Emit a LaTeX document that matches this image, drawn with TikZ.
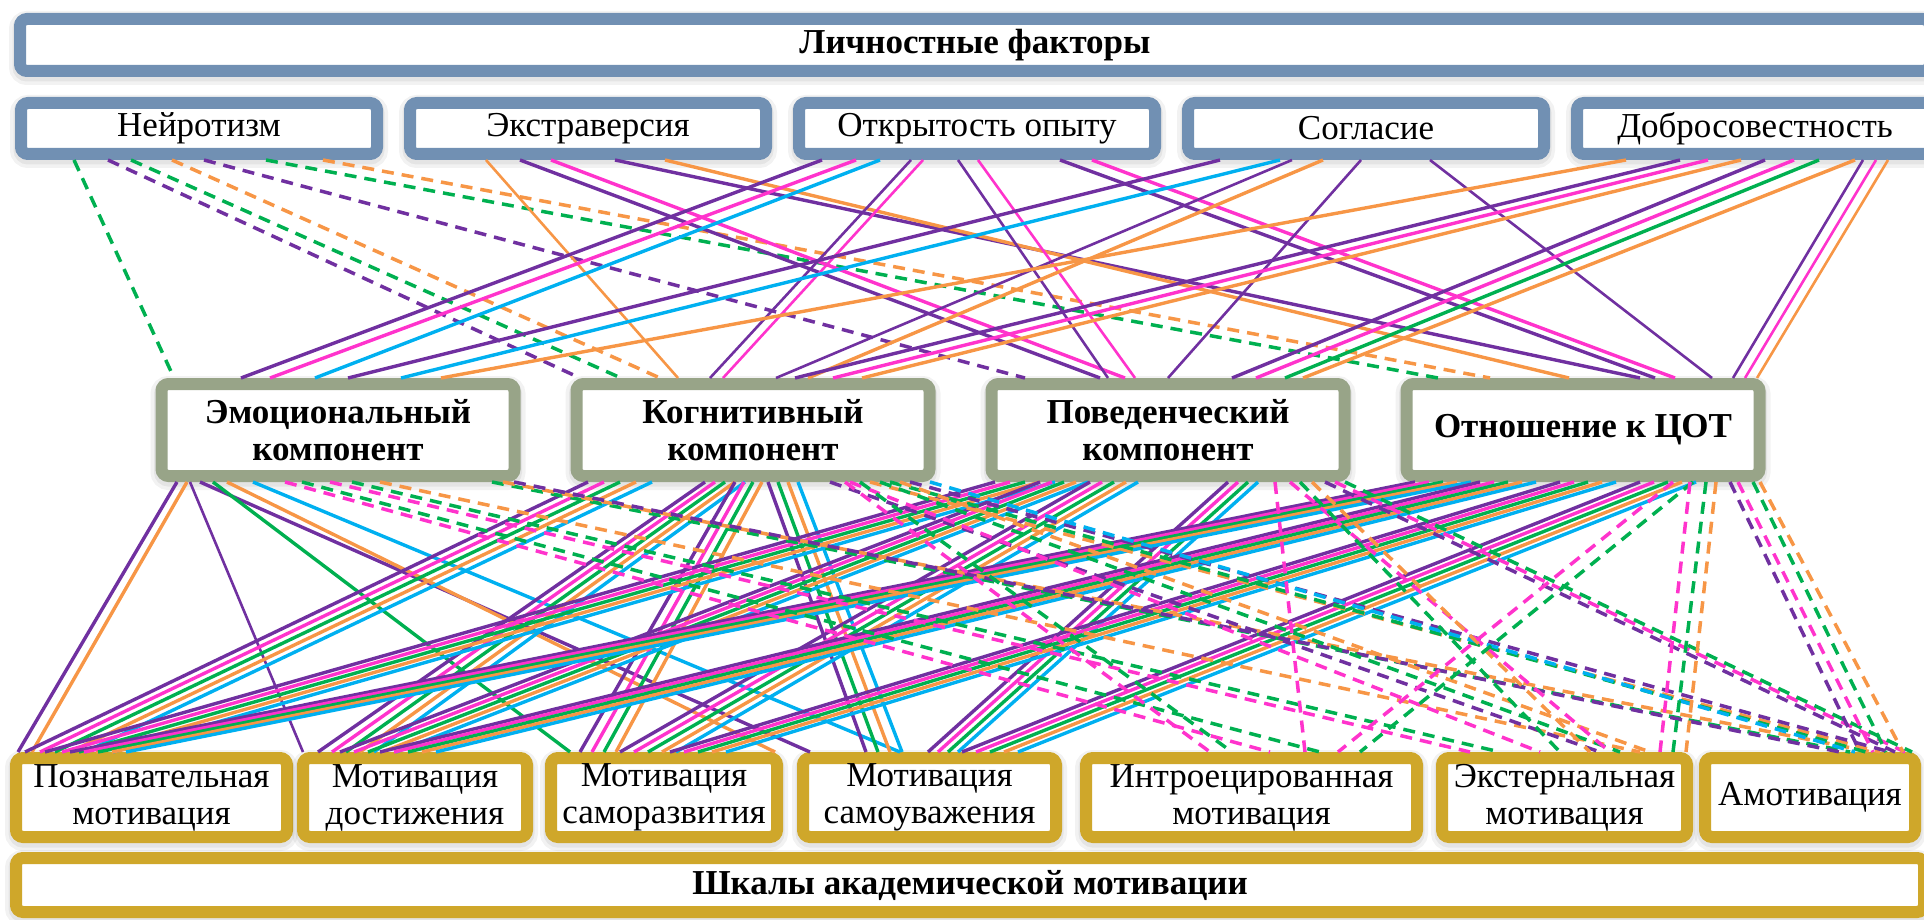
\documentclass[tikz,border=0pt]{standalone}
\usepackage{fontspec}
\setmainfont{Liberation Serif}
\usetikzlibrary{calc,shadows}

\definecolor{lp}{HTML}{7030A0}
\definecolor{lm}{HTML}{FF33CC}
\definecolor{lg}{HTML}{00B050}
\definecolor{lo}{HTML}{F79646}
\definecolor{lc}{HTML}{00B0F0}
\definecolor{rimA}{HTML}{7190B3}
\definecolor{rimB}{HTML}{98A488}
\definecolor{rimC}{HTML}{CFA72A}

\tikzset{
  box/.style={draw=#1, fill=white, line width=12pt, rounded corners=7pt,
    inner sep=0pt, align=center, text=black,
    font=\fontsize{35}{37}\selectfont,
    general shadow={draw=black, fill=black, opacity=.05, line width=22pt, shadow yshift=-3pt},
    general shadow={draw=black, fill=black, opacity=.06, line width=15pt, shadow yshift=-3pt}},
  sld/.style={line width=3.4pt},
  thin/.style={line width=2.6pt},
  dsh/.style={line width=3.5pt, dash pattern=on 12pt off 8pt},
}

% link from the bottom of one box to the top of another, at given x positions
\newcommand\lk[5]{\draw[#1] let \p1=(#2.south), \p2=(#4.north) in (#3pt,\y1) -- (#5pt,\y2);}
% a bundle of parallel links, one per colour
\newcommand\bd[8]{\foreach \cc [count=\k from 0] in {#8} {%
  \pgfmathsetmacro\sx{#3+\k*(#4)}\pgfmathsetmacro\tx{#6+\k*(#7)}%
  \lk{draw=\cc,#1}{#2}{\sx}{#5}{\tx}}}

\begin{document}
\begin{tikzpicture}[x=1pt,y=-1pt]
\useasboundingbox (0,0) rectangle (1924,920);

% personality factors
\node[box=rimA, minimum width=1910, minimum height=52] (T0) at (975,45) {\textbf{Личностные факторы}};
\node[box=rimA, minimum width=356, minimum height=51] (N) at (199,128.5) {Нейротизм};
\node[box=rimA, minimum width=356, minimum height=51] (E) at (588,128.5) {Экстраверсия};
\node[box=rimA, minimum width=356, minimum height=51] (O) at (977,128.5) {Открытость опыту};
\node[box=rimA, minimum width=356, minimum height=51] (A) at (1366,128.5) {Согласие};
\node[box=rimA, minimum width=356, minimum height=51] (C) at (1755,128.5) {Добросовестность};

% attitude components
\node[box=rimB, minimum width=353, minimum height=92] (EM) at (338,430) {\textbf{Эмоциональный}\\\textbf{компонент}};
\node[box=rimB, minimum width=353, minimum height=92] (KO) at (753,430) {\textbf{Когнитивный}\\\textbf{компонент}};
\node[box=rimB, minimum width=353, minimum height=92] (PO) at (1168,430) {\textbf{Поведенческий}\\\textbf{компонент}};
\node[box=rimB, minimum width=353, minimum height=92] (OT) at (1583,430) {\textbf{Отношение к ЦОТ}};

% academic motivation scales
\node[box=rimC, minimum width=271, minimum height=79] (M1) at (151.5,797.5) {Познавательная\\мотивация};
\node[box=rimC, minimum width=224, minimum height=79] (M2) at (415,797.5) {Мотивация\\достижения};
\node[box=rimC, minimum width=226, minimum height=79] (M3) at (664,797.5) {Мотивация\\саморазвития};
\node[box=rimC, minimum width=253, minimum height=79] (M4) at (929.5,797.5) {Мотивация\\самоуважения};
\node[box=rimC, minimum width=331, minimum height=79] (M5) at (1251.5,797.5) {Интроецированная\\мотивация};
\node[box=rimC, minimum width=245, minimum height=79] (M6) at (1564.5,797.5) {Экстернальная\\мотивация};
\node[box=rimC, minimum width=210, minimum height=79] (M7) at (1810,797.5) {Амотивация};
\node[box=rimC, minimum width=1908, minimum height=54] (B) at (970,885) {\textbf{Шкалы академической мотивации}};

% ---- factors to components ----
\lk{lg,dsh}{N}{74}{EM}{174}
\lk{lp,dsh}{N}{108}{KO}{580}
\lk{lg,dsh}{N}{131}{KO}{621}
\lk{lo,dsh}{N}{172}{KO}{660}
\lk{lp,dsh}{N}{204}{PO}{1025}
\lk{lg,dsh}{N}{266}{OT}{1438}
\lk{lo,dsh}{N}{323}{OT}{1490}

\lk{lo,thin}{E}{486}{KO}{678}
\lk{lp,sld}{E}{520}{PO}{1100}
\lk{lm,sld}{E}{551}{PO}{1125}
\lk{lp,sld}{E}{615}{OT}{1640}
\lk{lo,sld}{E}{665}{OT}{1569}

\lk{lp,sld}{O}{822}{EM}{241}
\lk{lm,sld}{O}{856}{EM}{270}
\lk{lc,sld}{O}{880}{EM}{315}
\lk{lp,thin}{O}{911}{KO}{710}
\lk{lm,thin}{O}{923}{KO}{723}
\lk{lp,thin}{O}{958}{PO}{1108}
\lk{lm,thin}{O}{978}{PO}{1135}
\lk{lp,sld}{O}{1060}{OT}{1655}
\lk{lm,sld}{O}{1092}{OT}{1675}

\lk{lp,sld}{A}{1220}{EM}{348}
\lk{lc,sld}{A}{1280}{EM}{401}
\lk{lp,thin}{A}{1292}{KO}{776}
\lk{lo,sld}{A}{1323}{KO}{808}
\lk{lp,thin}{A}{1361}{PO}{1168}
\lk{lp,thin}{A}{1430}{OT}{1712}

\lk{lo,sld}{C}{1626}{EM}{441}
\lk{lp,sld}{C}{1680}{KO}{795}
\lk{lm,sld}{C}{1708}{KO}{833}
\lk{lo,sld}{C}{1741}{KO}{862}
\lk{lp,sld}{C}{1765}{PO}{1232}
\lk{lm,sld}{C}{1794}{PO}{1256}
\lk{lg,sld}{C}{1819}{PO}{1285}
\lk{lo,sld}{C}{1855}{PO}{1303}
\lk{lp,thin}{C}{1863}{OT}{1733}
\lk{lm,thin}{C}{1876}{OT}{1745}
\lk{lo,thin}{C}{1888}{OT}{1757}

% ---- components to motivation scales ----
\lk{lp,sld}{EM}{177}{M1}{18}
\lk{lo,sld}{EM}{187}{M1}{32}
\lk{lp,thin}{EM}{190}{M2}{303}
\lk{lp,sld}{EM}{200}{M4}{810}
\lk{lg,sld}{EM}{213}{M3}{570}
\lk{lo,sld}{EM}{227}{M3}{775}
\lk{lc,sld}{EM}{253}{M4}{900}

\bd{sld}{KO}{588}{16}{M1}{25}{15}{lp,lm,lg,lo,lc}
\bd{sld}{KO}{705}{10}{M2}{318}{14}{lp,lm,lg,lo,lc}
\bd{sld}{KO}{735}{9}{M3}{580}{12}{lp,lm,lg,lo}
\bd{sld}{KO}{768}{10}{M4}{866}{12}{lp,lg,lo,lc}

\bd{sld}{PO}{995}{15}{M1}{45}{17}{lp,lm,lg,lo,lc}
\bd{sld}{PO}{1040}{12}{M2}{340}{14}{lp,lm,lg,lo,lc}
\bd{sld}{PO}{1090}{12}{M3}{620}{14}{lp,lm,lg,lo,lc}
\bd{sld}{PO}{1228}{10}{M4}{928}{10}{lp,lm,lg,lc}

\bd{sld}{OT}{1415}{14}{M1}{70}{14}{lp,lm,lg,lo,lc}
\bd{sld}{OT}{1480}{14}{M2}{380}{14}{lp,lm,lg,lo,lc}
\bd{sld}{OT}{1560}{14}{M3}{670}{14}{lp,lm,lg,lo,lc}
\bd{sld}{OT}{1640}{14}{M4}{962}{14}{lp,lm,lg,lo,lc}

\lk{lm,dsh}{EM}{285}{M5}{1270}
\lk{lg,dsh}{EM}{302}{M5}{1320}
\lk{lm,dsh}{EM}{330}{M6}{1470}
\lk{lg,dsh}{EM}{352}{M6}{1500}
\lk{lo,dsh}{EM}{380}{M6}{1640}
\lk{lg,dsh}{EM}{492}{M7}{1850}
\lk{lo,dsh}{EM}{503}{M7}{1872}
\lk{lp,dsh}{EM}{514}{M7}{1840}

\lk{lp,dsh}{KO}{830}{M6}{1600}
\lk{lm,dsh}{KO}{845}{M5}{1210}
\lk{lm,dsh}{KO}{850}{M6}{1540}
\lk{lg,dsh}{KO}{860}{M5}{1232}
\lk{lo,dsh}{KO}{870}{M7}{1880}
\lk{lg,dsh}{KO}{880}{M6}{1620}
\lk{lg,dsh}{KO}{890}{M7}{1866}
\lk{lo,dsh}{KO}{900}{M6}{1650}
\lk{lp,dsh}{KO}{910}{M7}{1890}
\lk{lc,dsh}{KO}{930}{M7}{1855}

\lk{lm,dsh}{PO}{1275}{M5}{1305}
\lk{lm,dsh}{PO}{1290}{M6}{1610}
\lk{lg,dsh}{PO}{1300}{M6}{1560}
\lk{lo,dsh}{PO}{1312}{M6}{1590}
\lk{lp,dsh}{PO}{1325}{M7}{1895}
\lk{lm,dsh}{PO}{1335}{M7}{1905}
\lk{lg,dsh}{PO}{1345}{M7}{1912}

\lk{lm,dsh}{OT}{1673}{M5}{1338}
\lk{lg,dsh}{OT}{1693}{M5}{1360}
\lk{lm,dsh}{OT}{1690}{M6}{1660}
\lk{lg,dsh}{OT}{1706}{M6}{1673}
\lk{lo,dsh}{OT}{1716}{M6}{1686}
\lk{lp,dsh}{OT}{1730}{M7}{1860}
\lk{lm,dsh}{OT}{1738}{M7}{1873}
\lk{lg,dsh}{OT}{1753}{M7}{1886}
\lk{lo,dsh}{OT}{1760}{M7}{1903}
\end{tikzpicture}
\end{document}
